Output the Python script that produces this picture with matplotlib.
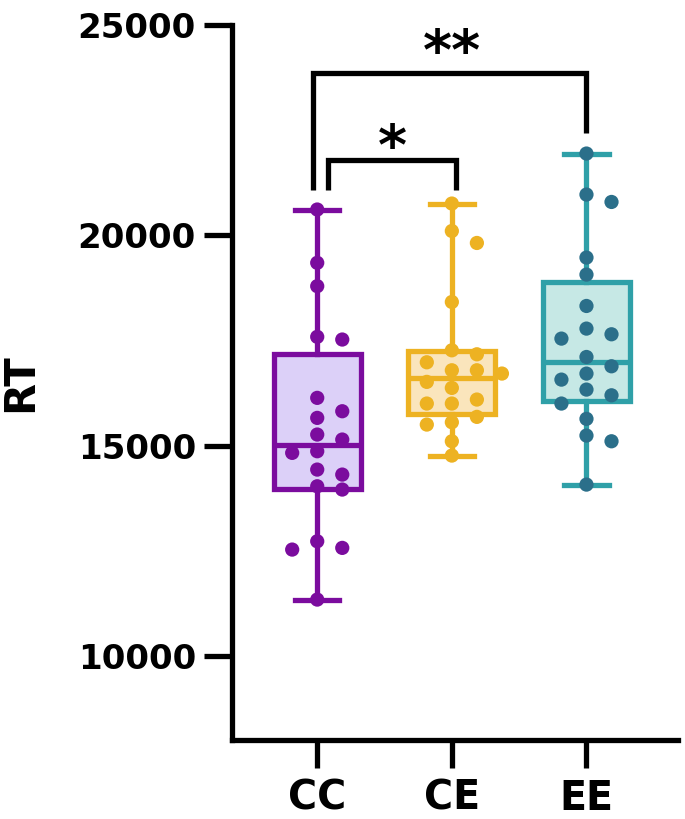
import numpy as np
import matplotlib
matplotlib.use("Agg")
import matplotlib.pyplot as plt

# ---------------- data ----------------
categories = ["CC", "CE", "EE"]
cc_rt = [20612, 19345, 18790, 17585, 17521, 16134, 15816, 15658, 15262, 15143,
         14865, 14826, 14429, 14310, 14032, 13954, 12724, 12567, 12527, 11338]
ce_rt = [20754, 20102, 19817, 18414, 17265, 17170, 16980, 16790, 16790, 16712,
         16514, 16371, 16094, 15999, 15999, 15682, 15554, 15499, 15102, 14762]
ee_rt = [21943, 20968, 20792, 19470, 19065, 18319, 17781, 17646, 17543, 17106,
         16885, 16711, 16568, 16331, 16195, 15999, 15635, 15238, 15102, 14072]
y_ticks = [10000, 15000, 20000, 25000]
y_label = "RT"

# ---------------- style ----------------
edge_colors = ["#7B0C9E", "#EDB222", "#2FA0A8"]
fill_colors = ["#DCD0F8", "#FAE5BC", "#C6E8E5"]
point_colors = ["#7B0C9E", "#EDB222", "#2B6F8A"]

plt.rcParams["font.family"] = ["DejaVu Sans"]
plt.rcParams["font.weight"] = "bold"

fig = plt.figure(figsize=(6.85, 8.19), dpi=100)
ax = fig.add_axes([0.3387, 0.0965, 0.6511, 0.873])

groups = [cc_rt, ce_rt, ee_rt]
positions = np.arange(len(categories))


def box_stats(vals, label):
    v = np.asarray(vals, dtype=float)
    q1, med, q3 = np.percentile(v, [25, 50, 75], method="weibull")
    return dict(med=med, q1=q1, q3=q3, whislo=v.min(), whishi=v.max(),
                fliers=[], label=label)


def swarm_offsets(vals, step, mind):
    """greedy column swarm: centre first, then right, then left"""
    v = np.asarray(vals, dtype=float)
    order = np.argsort(-v)
    cols = [0, 1, -1, 2, -2, 3, -3]
    placed = {c: [] for c in cols}
    offs = np.zeros(len(v))
    for k in order:
        for c in cols:
            if all(abs(v[k] - p) >= mind for p in placed[c]):
                placed[c].append(v[k])
                offs[k] = c * step
                break
    return offs


lw = 3.8
for i, (vals, cat) in enumerate(zip(groups, categories)):
    st = box_stats(vals, cat)
    ax.bxp([st], positions=[positions[i]], widths=0.645, patch_artist=True,
           showfliers=False,
           boxprops=dict(facecolor=fill_colors[i], edgecolor=edge_colors[i], linewidth=lw),
           medianprops=dict(color=edge_colors[i], linewidth=lw),
           whiskerprops=dict(color=edge_colors[i], linewidth=lw),
           capprops=dict(color=edge_colors[i], linewidth=lw),
           capwidths=0.33, zorder=2)
    offs = swarm_offsets(vals, 0.186, 340)
    ax.scatter(positions[i] + offs, vals, s=105, color=point_colors[i],
               edgecolors="none", zorder=4, clip_on=False)


# significance brackets
def bracket(x1, x2, y_top, y_left, y_right, text, text_y, text_x):
    ax.plot([x1, x1, x2, x2], [y_left, y_top, y_top, y_right], color="black",
            lw=3.8, solid_capstyle="butt", solid_joinstyle="miter", clip_on=False, zorder=5)
    ax.text(text_x, text_y, text, ha="center", va="center", fontsize=40,
            fontweight="bold", color="black", clip_on=False)


bracket(0.08, 1.03, 21791, 21078, 21078, "*", 22060, 0.56)
bracket(-0.03, 2.0, 23866, 21078, 22426, "**", 24300, 1.0)

ax.set_xlim(-0.633, 2.68)
ax.set_ylim(8000, 25000)
ax.set_yticks(y_ticks)
ax.set_yticklabels([str(t) for t in y_ticks], fontsize=24.5, fontweight="bold")
ax.set_xticks(positions)
ax.set_xticklabels(categories, fontsize=28.5, fontweight="bold")
ax.set_ylabel(y_label, fontsize=30, fontweight="bold", labelpad=26)

for s in ["top", "right"]:
    ax.spines[s].set_visible(False)
for s in ["left", "bottom"]:
    ax.spines[s].set_linewidth(3.8)
    ax.spines[s].set_capstyle("projecting")
ax.tick_params(axis="both", width=3.8, length=20, color="black")
ax.tick_params(axis="y", pad=6)
ax.tick_params(axis="x", pad=8)

fig.savefig("out.png", dpi=100)
